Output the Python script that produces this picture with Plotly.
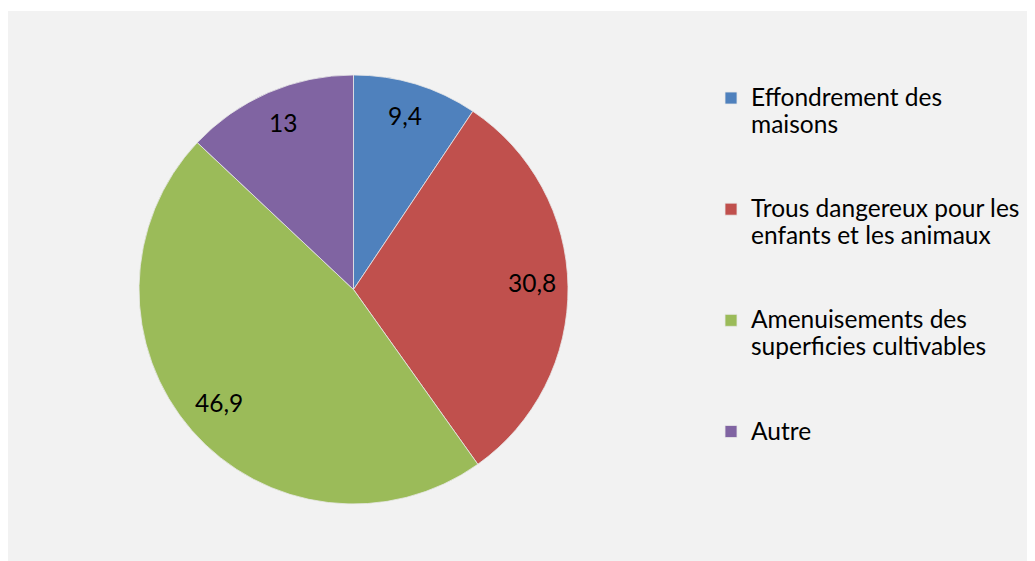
import math
import plotly.graph_objects as go

labels = ["Effondrement des<br>maisons",
          "Trous dangereux pour les<br>enfants et les animaux",
          "Amenuisements des<br>superficies cultivables",
          "Autre"]
values = [9.4, 30.8, 46.9, 13]
value_text = ["9,4", "30,8", "46,9", "13"]
colors = ["#4F81BD", "#C0504D", "#9BBB59", "#8064A2"]

# the page body adds an 8px margin, so the figure is drawn 8px in
W, H = 1027, 553
FONT = "Lato"
FS_TXT = 24.5      # glyph size
FS_LEG = 20.8      # legend line-spacing size

# pie geometry in figure pixels
cx, cy, R = 345.5, 281.5, 214.5
LABEL_R = 0.83     # radial position of the data labels
LABEL_DY = -4      # small vertical nudge for text centring

leg_labels = []
for i, l in enumerate(labels):
    t = "<span style='font-size:%spx'>%s</span>" % (FS_TXT, l)
    if i < len(labels) - 1:
        t += "<br> <br> "
    leg_labels.append(t)

fig = go.Figure(go.Pie(
    labels=leg_labels,
    values=values,
    sort=False,
    direction="clockwise",
    rotation=0,
    marker=dict(colors=colors, line=dict(color="#E8E8E8", width=0.8)),
    textinfo="none",
    hoverinfo="value",
    domain=dict(x=[(cx - R) / W, (cx + R) / W],
                y=[(H - cy - R) / H, (H - cy + R) / H]),
))

# data labels, placed from the values
total = sum(values)
cum = 0.0
for v, t in zip(values, value_text):
    th = 2 * math.pi * (cum + v / 2) / total
    cum += v
    px = cx + LABEL_R * R * math.sin(th)
    py = cy - LABEL_R * R * math.cos(th) + LABEL_DY
    fig.add_annotation(x=px / W, y=1 - py / H, xref="paper", yref="paper",
                       xanchor="center", yanchor="middle",
                       text=t, showarrow=False,
                       font=dict(family=FONT, size=FS_TXT, color="#000000"))

fig.add_shape(type="rect", xref="paper", yref="paper",
              x0=0, x1=1, y0=0, y1=1 - 3 / H,
              fillcolor="#F2F2F2", line=dict(width=0), layer="below")

fig.update_layout(
    width=W, height=H,
    margin=dict(l=0, r=0, t=0, b=0),
    paper_bgcolor="#FFFFFF",
    plot_bgcolor="#F2F2F2",
    font=dict(family=FONT, size=FS_LEG, color="#000000"),
    showlegend=True,
    legend=dict(x=703 / W, y=1 - 70 / H, xanchor="left", yanchor="top",
                valign="top", bgcolor="rgba(0,0,0,0)",
                font=dict(family=FONT, size=FS_LEG, color="#000000"),
                itemclick=False, itemdoubleclick=False),
)

fig.write_html("out.html")
